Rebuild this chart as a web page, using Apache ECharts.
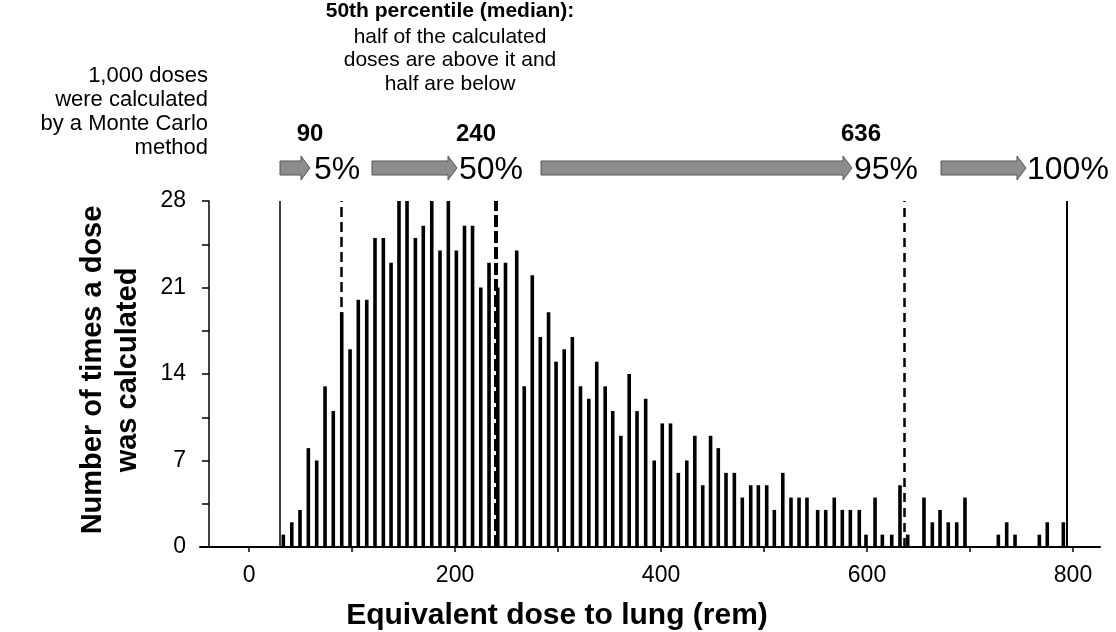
<!DOCTYPE html>
<html>
<head>
<meta charset="utf-8">
<script src="https://cdn.jsdelivr.net/npm/echarts@6/dist/echarts.min.js"></script>
<style>
html,body{margin:0;padding:0;background:#fff;}
#chart{width:1116px;height:632px;}
</style>
</head>
<body>
<div id="chart"></div>
<script>
// ---- data ----
const doses = [33.3,41.5,49.5,57.6,65.7,73.8,81.8,90.0,98.1,106.1,114.3,122.3,130.4,137.9,145.6,153.4,161.5,169.2,177.4,185.4,193.5,201.3,209.2,217.0,225.0,233.0,241.5,249.0,259.9,267.2,275.0,282.8,290.8,298.1,306.0,313.9,321.8,329.9,337.6,345.8,353.1,361.0,369.1,376.7,385.1,393.4,401.2,409.2,416.8,425.0,432.8,440.5,448.1,455.6,463.1,471.2,478.9,487.1,494.5,502.6,510.0,518.2,526.2,534.0,541.7,552.1,559.9,568.2,576.0,583.8,592.5,599.0,607.8,614.9,624.0,632.0,639.5,655.3,663.4,670.9,678.9,687.1,695.1,727.5,735.6,743.7,767.3,775.0,790.6];
const counts = [1,2,3,8,7,13,11,19,16,20,20,25,25,23,28,28,25,26,28,24,28,24,26,26,21,23,21,23,24,13,22,17,19,15,16,17,13,12,15,13,11,9,14,11,12,7,10,10,6,7,9,5,9,8,6,6,4,5,5,5,3,6,4,4,4,3,3,4,3,3,3,1,4,1,1,5,1,4,2,3,2,2,4,1,2,1,1,2,2];
const xTickValues = [0,100,200,300,400,500,600,700,800];
const xLabelValues = [0,200,400,600,800];
const yLabelValues = [0,7,14,21,28];
const minDose = 30, maxDose = 794;
const pctDoses = [90, 240, 636];
const pctDoseLabels = ['90','240','636'];
const pctLabels = ['5%','50%','95%','100%'];
const leftNote = ['1,000 doses','were calculated','by a Monte Carlo','method'];
const medianTitle = '50th percentile (median):';
const medianNote = ['half of the calculated','doses are above it and','half are below'];
const xTitle = 'Equivalent dose to lung (rem)';
const yTitle = ['Number of times a dose','was calculated'];

const FONT = '"Liberation Sans", Arial, Helvetica, sans-serif';
const chart = echarts.init(document.getElementById('chart'), null, {renderer:'canvas'});

const barData = doses.map((d,i)=>[d, counts[i]]);

function arrow(x0, x1, yc){
  const bh = 7, hh = 12, hl = 9;
  return {
    type:'polygon',
    shape:{points:[[x0,yc-bh],[x1-hl,yc-bh],[x1-hl,yc-hh],[x1,yc],[x1-hl,yc+hh],[x1-hl,yc+bh],[x0,yc+bh]]},
    style:{fill:'#8c8c8c', stroke:'#555', lineWidth:1}
  };
}

const graphics = [];
graphics.push({type:'text', x:208, y:64, style:{text:leftNote.join('\n'), font:'22px '+FONT, fill:'#000', align:'right', verticalAlign:'top', lineHeight:24}});
graphics.push({type:'text', x:450, y:1, style:{text:medianTitle, font:'bold 21px '+FONT, fill:'#000', align:'center', verticalAlign:'top'}});
graphics.push({type:'text', x:450, y:25, style:{text:medianNote.join('\n'), font:'21px '+FONT, fill:'#000', align:'center', verticalAlign:'top', lineHeight:23.5}});
const pctLabelX = [310, 476, 861];
pctDoseLabels.forEach((t,i)=>graphics.push({type:'text', x:pctLabelX[i], y:134, style:{text:t, font:'bold 24px '+FONT, fill:'#000', align:'center', verticalAlign:'middle'}}));
const arrowSpans = [[280,310],[372,457],[541,852],[941,1026]];
const pctTextX = [314, 459, 854, 1027];
arrowSpans.forEach((s,i)=>{
  graphics.push(arrow(s[0], s[1], 168));
  graphics.push({type:'text', x:pctTextX[i], y:170, style:{text:pctLabels[i], font:'32px '+FONT, fill:'#000', align:'left', verticalAlign:'middle'}});
});
graphics.push({type:'text', x:110, y:370, rotation:Math.PI/2, style:{text:yTitle.join('\n'), font:'bold 29px '+FONT, fill:'#000', align:'center', verticalAlign:'middle', lineHeight:35}});
graphics.push({type:'text', x:557, y:616, style:{text:xTitle, font:'bold 30px '+FONT, fill:'#000', align:'center', verticalAlign:'middle'}});

const markLines = [
  {xAxis:minDose, lineStyle:{type:'solid', width:1.5, color:'#000'}},
  {xAxis:pctDoses[0], lineStyle:{type:[10,5], width:2.5, color:'#000'}},
  {xAxis:pctDoses[1], lineStyle:{type:[12,4], width:4, color:'#000'}},
  {xAxis:pctDoses[2], lineStyle:{type:[9,6], width:2.5, color:'#000'}},
  {xAxis:maxDose, lineStyle:{type:'solid', width:2, color:'#000'}}
];

chart.setOption({
  animation:false,
  backgroundColor:'#fff',
  grid:{left:200, right:16, top:201, bottom:85, containLabel:false},
  xAxis:{
    type:'value', min:-47.6, max:826.2,
    splitLine:{show:false},
    axisLine:{show:true, onZero:false, lineStyle:{color:'#000', width:2}},
    axisTick:{show:true, customValues:xTickValues, length:5, lineStyle:{color:'#000', width:1.5}},
    axisLabel:{show:true, customValues:xLabelValues, margin:17, fontSize:23, color:'#000', fontFamily:FONT}
  },
  yAxis:{
    type:'value', min:0, max:28, interval:3.5, offset:-9,
    splitLine:{show:false},
    axisLine:{show:true, onZero:false, lineStyle:{color:'#000', width:1.5}},
    axisTick:{show:true, length:7, lineStyle:{color:'#000', width:1.5}},
    axisLabel:{show:true, margin:23, fontSize:23, color:'#000', fontFamily:FONT,
      formatter:(v)=> yLabelValues.indexOf(v) >= 0 ? String(v) : ''}
  },
  series:[{
    type:'bar', data:barData, barWidth:3.6,
    itemStyle:{color:'#000'},
    markLine:{silent:true, symbol:['none','none'], label:{show:false}, data:markLines}
  }],
  graphic:graphics
});
</script>
</body>
</html>
